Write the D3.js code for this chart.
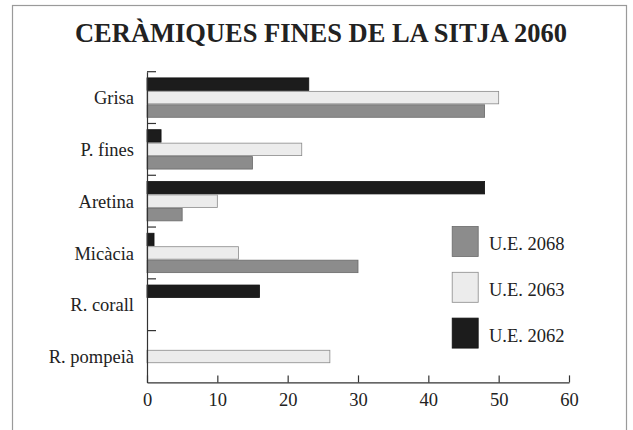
<!DOCTYPE html>
<html>
<head>
<meta charset="utf-8">
<script src="https://cdn.jsdelivr.net/npm/d3@7"></script>
<style>
  html, body { margin: 0; padding: 0; background: #fff; }
  svg { display: block; }
  text { font-family: "Liberation Serif", "Times New Roman", serif; fill: #222; }
</style>
</head>
<body>
<svg id="chart" width="633" height="430"></svg>
<script>
const title = "CERÀMIQUES FINES DE LA SITJA 2060";
const categories = ["Grisa", "P. fines", "Aretina", "Micàcia", "R. corall", "R. pompeià"];
const seriesNames = ["U.E. 2062", "U.E. 2063", "U.E. 2068"];
const ue2062 = [23, 2, 48, 1, 16, 0];
const ue2063 = [50, 22, 10, 13, 0, 26];
const ue2068 = [48, 15, 5, 30, 0, 0];
const xTicks = [0, 10, 20, 30, 40, 50, 60];
const legendOrder = ["U.E. 2068", "U.E. 2063", "U.E. 2062"];

const fills = { "U.E. 2062": "#1c1c1c", "U.E. 2063": "#ececec", "U.E. 2068": "#8c8c8c" };
const strokes = { "U.E. 2062": "#111", "U.E. 2063": "#8a8a8a", "U.E. 2068": "#6a6a6a" };
const seriesValues = { "U.E. 2062": ue2062, "U.E. 2063": ue2063, "U.E. 2068": ue2068 };

const svg = d3.select("#chart");

// frame
svg.append("rect")
  .attr("x", 12.5).attr("y", 5.5).attr("width", 614).attr("height", 440)
  .attr("fill", "#fff").attr("stroke", "#9a9a9a").attr("stroke-width", 1.2);

// title
svg.append("text")
  .attr("x", 321).attr("y", 41.7)
  .attr("text-anchor", "middle")
  .attr("font-size", 27.5).attr("font-weight", "bold")
  .attr("textLength", 492).attr("lengthAdjust", "spacingAndGlyphs")
  .text(title);

const x = d3.scaleLinear().domain([0, 60]).range([147, 569]);
const y = d3.scaleBand().domain(categories).range([71.7, 382.4]).padding(0);
const inner = d3.scaleBand().domain(seriesNames)
  .range([5.7, y.bandwidth() - 5.7]).padding(0);

// bars
const rows = categories.map((c, i) => ({ cat: c, vals: seriesNames.map(s => ({ s, v: seriesValues[s][i] })) }));
const g = svg.append("g");
const grp = g.selectAll("g.cat").data(rows).join("g")
  .attr("transform", d => `translate(0,${y(d.cat)})`);
grp.selectAll("rect").data(d => d.vals.filter(e => e.v > 0)).join("rect")
  .attr("x", x(0))
  .attr("y", d => inner(d.s) + 0.5)
  .attr("width", d => x(d.v) - x(0))
  .attr("height", inner.bandwidth() - 1)
  .attr("fill", d => fills[d.s])
  .attr("stroke", d => strokes[d.s])
  .attr("stroke-width", 0.8);

// x axis
const xAxis = d3.axisBottom(x).tickValues(xTicks).tickSize(-7).tickSizeOuter(0).tickPadding(10);
const xg = svg.append("g").attr("transform", `translate(0,${y.range()[1]})`).call(xAxis);
xg.select(".domain").attr("stroke", "#333").attr("stroke-width", 1.2);
xg.selectAll(".tick line").attr("stroke", "#333").attr("stroke-width", 1.2);
xg.selectAll(".tick text").attr("font-size", 18.5).attr("font-family", "Liberation Serif").attr("fill", "#222");

// y axis
const yAxis = d3.axisLeft(y).tickSize(0).tickPadding(13).tickSizeOuter(0);
const yg = svg.append("g").attr("transform", `translate(${x(0)},0)`).call(yAxis);
yg.select(".domain").attr("stroke", "#333").attr("stroke-width", 1.2);
yg.selectAll(".tick text").attr("font-size", 18.5).attr("font-family", "Liberation Serif").attr("fill", "#222").attr("dy", "0.36em");
// boundary ticks at start of each band
svg.append("g").selectAll("line").data(categories).join("line")
  .attr("x1", x(0)).attr("x2", x(0) + 9)
  .attr("y1", d => y(d)).attr("y2", d => y(d))
  .attr("stroke", "#333").attr("stroke-width", 1.2);

// legend
const lg = svg.append("g").attr("transform", "translate(451.7,226)");
const li = lg.selectAll("g").data(legendOrder).join("g")
  .attr("transform", (d, i) => `translate(0,${i * 45.8})`);
li.append("rect").attr("x", 0.5).attr("y", 0.5).attr("width", 26).attr("height", 30)
  .attr("fill", d => fills[d]).attr("stroke", d => strokes[d]).attr("stroke-width", 0.8);
li.append("text").attr("x", 37.3).attr("y", 24)
  .attr("font-size", 18.5).text(d => d);
</script>
</body>
</html>
